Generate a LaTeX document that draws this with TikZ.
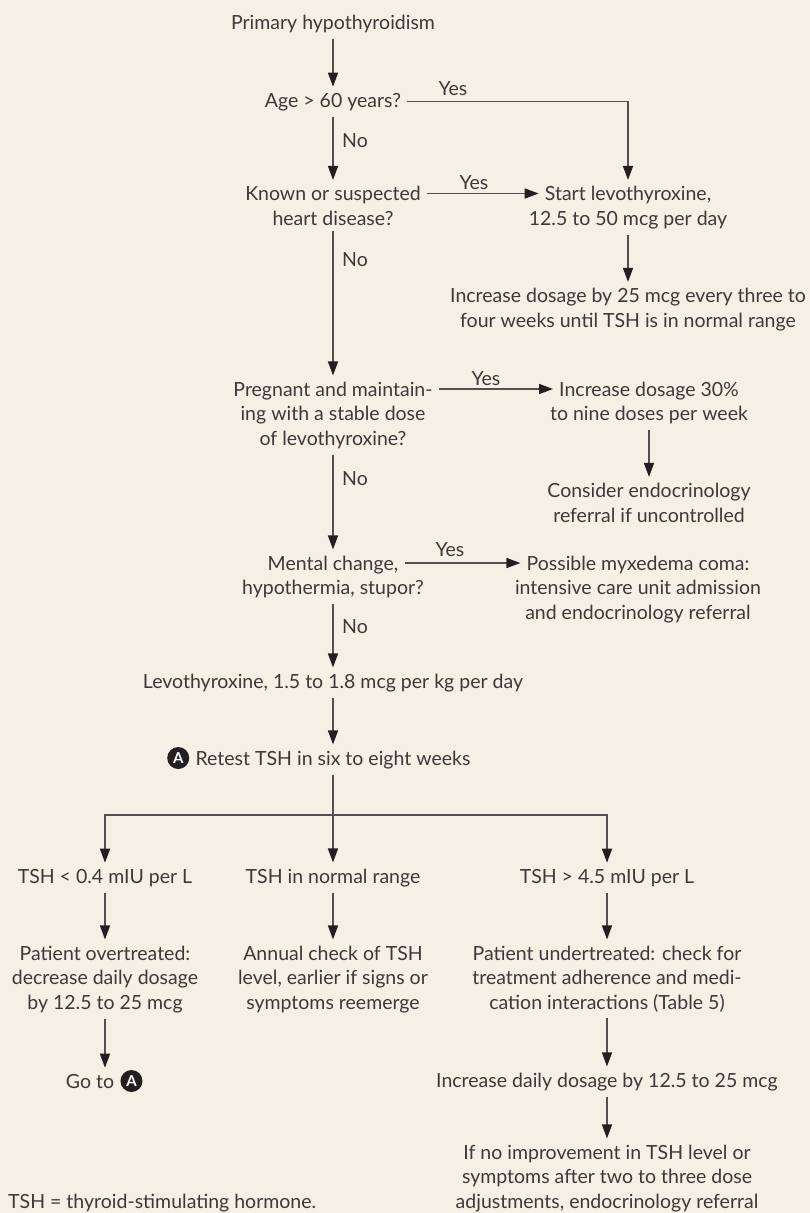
\documentclass[tikz,border=0pt]{standalone}
\usepackage{fontspec}
\setmainfont{Lato}
\usetikzlibrary{positioning, calc, arrows.meta}

\definecolor{paper}{HTML}{F4F0E6}
\definecolor{ink}{HTML}{3A3A3A}
\definecolor{wirec}{HTML}{505050}
\definecolor{tipblack}{HTML}{231F20}

\begin{document}
\begin{tikzpicture}[x=1pt, y=-1pt,
    box/.style={align=center, inner xsep=6pt, inner ysep=6pt, text=ink,
      font=\fontsize{19.5}{24.5}\selectfont, anchor=base},
    lab/.style={inner sep=0pt, text=ink, font=\fontsize{19.5}{22}\selectfont},
    conn/.style={draw=wirec, line width=1.5pt},
    flow/.style={conn, -{Triangle[length=14pt, width=10pt, color=tipblack]}},
    badge/.style={circle, fill=tipblack, text=white, inner sep=0pt,
      minimum size=22pt, font=\fontsize{15}{15}\bfseries\selectfont}]
    \fill[paper] (0,0) rectangle (810,1213);
    \useasboundingbox (0,0) rectangle (810,1213);

    % main column
    \node[box] (prim) at (333,29) {Primary hypothyroidism};
    \node[box] (age) at (333,107) {Age > 60 years?};
    \node[box] (heart) at (333,225) {Known or suspected\\heart disease?};
    \node[box] (preg) at (333,445) {Pregnant and maintain-\\ing with a stable dose\\of levothyroxine?};
    \node[box] (mental) at (333,570) {Mental change,};
    \node[box] (mental2) at ([yshift=-24.5pt]mental.base) {hypothermia, stupor?};
    \node[box] (levo) at (333,688) {Levothyroxine, 1.5 to 1.8 mcg per kg per day};
    \node[box] (retest) at (333,765) {Retest TSH in six to eight weeks};
    \node[badge, anchor=east] (badgeA) at ([yshift=7pt]retest.base west) {A};

    % right column
    \node[box] (start) at (628,200.5) {Start levothyroxine,};
    \node[box] (start2) at ([yshift=-24.5pt]start.base) {12.5 to 50 mcg per day};
    \node[box] (incr) at (628,327) {Increase dosage by 25 mcg every three to\\four weeks until TSH is in normal range};
    \node[box] (preg30) at (649,396) {Increase dosage 30\%};
    \node[box] (preg302) at ([yshift=-24.5pt]preg30.base) {to nine doses per week};
    \node[box] (endo) at (649,522) {Consider endocrinology\\referral if uncontrolled};
    \node[box] (myx) at (638,570) {Possible myxedema coma:};
    \node[box] (myx2) at ([yshift=-49pt]myx.base) {intensive care unit admission\\and endocrinology referral};

    % TSH results
    \node[box] (low) at (105,883) {TSH < 0.4 mIU per L};
    \node[box] (normal) at (333,883) {TSH in normal range};
    \node[box] (high) at (607,883) {TSH > 4.5 mIU per L};
    \node[box] (over) at (105,1009) {Patient overtreated:\\decrease daily dosage\\by 12.5 to 25 mcg};
    \node[box] (annual) at (333,1009) {Annual check of TSH\\level, earlier if signs or\\symptoms reemerge};
    \node[box] (under) at (607,1009) {Patient undertreated: check for\\treatment adherence and medi-\\cation interactions (Table 5)};
    \node[box] (goto) at (90,1088) {Go to};
    \node[badge, anchor=west] (badgeB) at ([yshift=7pt]goto.base east) {A};
    \node[box] (daily) at (607,1087) {Increase daily dosage by 12.5 to 25 mcg};
    \node[box] (noimp) at (607,1208) {If no improvement in TSH level or\\symptoms after two to three dose\\adjustments, endocrinology referral};

    \node[lab, anchor=base west] (note) at (8,1208) {TSH = thyroid-stimulating hormone.};

    % yes / no labels
    \node[lab] (yes1) at (453,89) {Yes};
    \node[lab] (yes2) at (474,183) {Yes};
    \node[lab] (yes3) at (486,379) {Yes};
    \node[lab] (yes4) at (450,550) {Yes};
    \node[lab, anchor=west] (no1) at (342,141) {No};
    \node[lab, anchor=west] (no2) at (342,260) {No};
    \node[lab, anchor=west] (no3) at (342,479) {No};
    \node[lab, anchor=west] (no4) at (342,627) {No};

    % connectors
    \draw[flow] (prim) -- (age);
    \draw[flow] (age.east) -| (start.north);
    \draw[flow] (age) -- (heart);
    \draw[flow] ([yshift=31.5pt]heart.base east) -- ([yshift=7pt]start.base west);
    \draw[flow] (start2) -- (incr);
    \draw[flow] (heart) -- (preg);
    \draw[flow] ([yshift=56pt]preg.base east) -- ([yshift=7pt]preg30.base west);
    \draw[flow] (preg302) -- (endo);
    \draw[flow] (preg) -- (mental);
    \draw[flow] ([yshift=7pt]mental.base east) -- ([yshift=7pt]myx.base west);
    \draw[flow] (mental2) -- (levo);
    \draw[flow] (levo) -- (retest);

    \coordinate (fork) at (333,815);
    \draw[conn] (retest.south) -- (fork);
    \draw[flow] (fork) -| (low.north);
    \draw[flow] (fork) -- (normal.north);
    \draw[flow] (fork) -| (high.north);
    \draw[flow] (low) -- (over);
    \draw[flow] (normal) -- (annual);
    \draw[flow] (high) -- (under);
    \draw[flow] (over.south) -- (over.south |- goto.north);
    \draw[flow] (under) -- (daily);
    \draw[flow] (daily) -- (noimp);
\end{tikzpicture}
\end{document}
